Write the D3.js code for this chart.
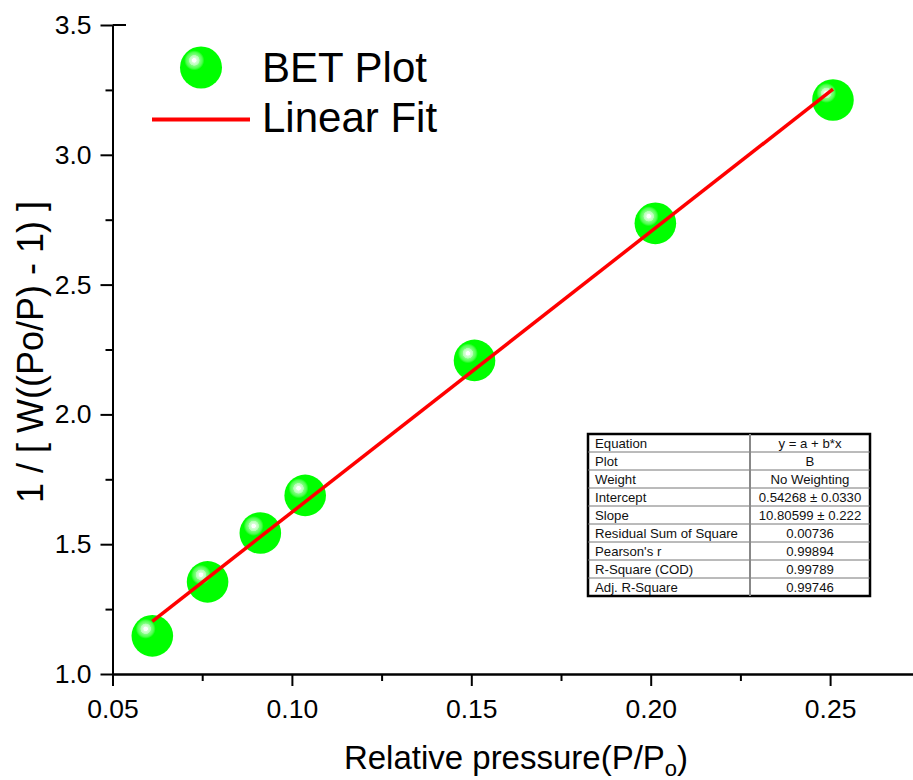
<!DOCTYPE html>
<html>
<head>
<meta charset="utf-8">
<script src="https://cdn.jsdelivr.net/npm/d3@7"></script>
<style>
  html, body { margin: 0; padding: 0; background: #fff; }
  svg { display: block; font-family: Arial, "Liberation Sans", sans-serif; }
</style>
</head>
<body>
<svg id="chart" width="913" height="780"></svg>
<script>
// BET plot: relative pressure vs 1/[W((Po/P)-1)]
const relPressure = [0.0611, 0.0765, 0.0912, 0.1037, 0.1509, 0.2013, 0.2508];
const betValue    = [1.147, 1.355, 1.543, 1.688, 2.208, 2.736, 3.211];

// Linear fit parameters
const fitIntercept = 0.54268;
const fitSlope = 10.80599;

const xTicks = [0.05, 0.10, 0.15, 0.20, 0.25];
const yTicks = [1.0, 1.5, 2.0, 2.5, 3.0, 3.5];

const statLabels = ["Equation", "Plot", "Weight", "Intercept", "Slope",
  "Residual Sum of Square", "Pearson's r", "R-Square (COD)", "Adj. R-Square"];
const statValues = ["y = a + b*x", "B", "No Weighting", "0.54268 \u00b1 0.0330",
  "10.80599 \u00b1 0.222", "0.00736", "0.99894", "0.99789", "0.99746"];

const svg = d3.select("#chart");

const x = d3.scaleLinear().domain([0.05, 0.275]).range([112.5, 919.8]);
const y = d3.scaleLinear().domain([1.0, 3.5]).range([674, 25]);

// sphere-like marker fill
const defs = svg.append("defs");
const grad = defs.append("radialGradient")
  .attr("id", "ball")
  .attr("cx", 0.34).attr("cy", 0.33).attr("fx", 0.34).attr("fy", 0.33)
  .attr("r", 0.24);
[[0, "#ffffff"], [0.2, "#ffffff"], [0.24, "#d9ffd9"], [0.5, "#b3ffb3"],
 [0.54, "#80ff80"], [0.8, "#4dff4d"], [1, "#00ff00"]]
  .forEach(([o, c]) => grad.append("stop").attr("offset", o).attr("stop-color", c));

// axes
const fontTick = 26.5;
const xAxis = d3.axisBottom(x).tickValues(xTicks).tickFormat(d3.format(".2f"))
  .tickSizeInner(12).tickSizeOuter(0).tickPadding(13);
const xMinor = d3.axisBottom(x).tickValues(d3.range(0.075, 0.276, 0.05))
  .tickSizeInner(7).tickSizeOuter(0).tickFormat("");
const yAxis = d3.axisLeft(y).tickValues(yTicks).tickFormat(d3.format(".1f"))
  .tickSizeInner(12).tickSizeOuter(0).tickPadding(9);
const yMinor = d3.axisLeft(y).tickValues(d3.range(1.25, 3.5, 0.5))
  .tickSizeInner(7).tickSizeOuter(0).tickFormat("");

function styleAxis(g) {
  g.selectAll("path").attr("stroke", "#000").attr("stroke-width", 2);
  g.selectAll("line").attr("stroke", "#000").attr("stroke-width", 2);
  g.selectAll("text").attr("fill", "#000").style("font-size", fontTick + "px")
    .style("font-family", "Arial, 'Liberation Sans', sans-serif");
}

svg.append("g").attr("transform", "translate(0,674)").call(xMinor).call(styleAxis);
svg.append("g").attr("transform", "translate(0,674)").call(xAxis).call(styleAxis);
svg.append("g").attr("transform", "translate(112.5,0)").call(yMinor).call(styleAxis);
svg.append("g").attr("transform", "translate(112.5,0)").call(yAxis).call(styleAxis);

// short cap at the top end of the y axis
svg.append("line").attr("x1", 112.5).attr("x2", 126).attr("y1", y(3.5)).attr("y2", y(3.5))
  .attr("stroke", "#000").attr("stroke-width", 2);

// axis titles
const xt = svg.append("text")
  .attr("x", 516).attr("y", 769).attr("text-anchor", "middle")
  .style("font-size", "33px").attr("fill", "#000");
xt.append("tspan").text("Relative pressure(P/P");
xt.append("tspan").attr("dy", 7).style("font-size", "22px").text("o");
xt.append("tspan").attr("dy", -7).text(")");

svg.append("text")
  .attr("transform", "translate(43,352) rotate(-90)")
  .attr("text-anchor", "middle")
  .style("font-size", "36px").attr("fill", "#000")
  .text("1 / [ W((Po/P) - 1) ]");

// data markers
const pts = relPressure.map((v, i) => ({ x: v, y: betValue[i] }));
svg.append("g").selectAll("circle").data(pts).join("circle")
  .attr("cx", d => x(d.x)).attr("cy", d => y(d.y))
  .attr("r", 20.8).attr("fill", "url(#ball)");

// fitted line across the data range
const xMin = d3.min(relPressure), xMax = d3.max(relPressure);
svg.append("line")
  .attr("x1", x(xMin)).attr("y1", y(fitIntercept + fitSlope * xMin))
  .attr("x2", x(xMax)).attr("y2", y(fitIntercept + fitSlope * xMax))
  .attr("stroke", "#ff0000").attr("stroke-width", 3.5);

// legend
const leg = svg.append("g");
leg.append("circle").attr("cx", 201).attr("cy", 67.5).attr("r", 21).attr("fill", "url(#ball)");
leg.append("text").attr("x", 262).attr("y", 82).style("font-size", "42px").text("BET Plot");
leg.append("line").attr("x1", 152).attr("x2", 250).attr("y1", 119.5).attr("y2", 119.5)
  .attr("stroke", "#ff0000").attr("stroke-width", 4);
leg.append("text").attr("x", 262).attr("y", 132).style("font-size", "42px").text("Linear Fit");

// fit statistics table
const tX = 588, tY = 434, tW = 282, rowH = 18, colX = 750;
const tbl = svg.append("g");
tbl.append("rect").attr("x", tX).attr("y", tY).attr("width", tW)
  .attr("height", rowH * statLabels.length).attr("fill", "#fff")
  .attr("stroke", "#000").attr("stroke-width", 2.5);
statLabels.forEach((lab, i) => {
  if (i > 0) {
    tbl.append("line").attr("x1", tX).attr("x2", tX + tW)
      .attr("y1", tY + i * rowH).attr("y2", tY + i * rowH)
      .attr("stroke", "#777").attr("stroke-width", 1);
  }
  tbl.append("text").attr("x", tX + 7).attr("y", tY + i * rowH + 14)
    .style("font-size", "13.2px").attr("fill", "#111").text(lab);
  tbl.append("text").attr("x", (colX + tX + tW) / 2).attr("y", tY + i * rowH + 14)
    .attr("text-anchor", "middle")
    .style("font-size", "13.2px").attr("fill", "#111").text(statValues[i]);
});
tbl.append("line").attr("x1", colX).attr("x2", colX).attr("y1", tY)
  .attr("y2", tY + rowH * statLabels.length).attr("stroke", "#888").attr("stroke-width", 2);
</script>
</body>
</html>
